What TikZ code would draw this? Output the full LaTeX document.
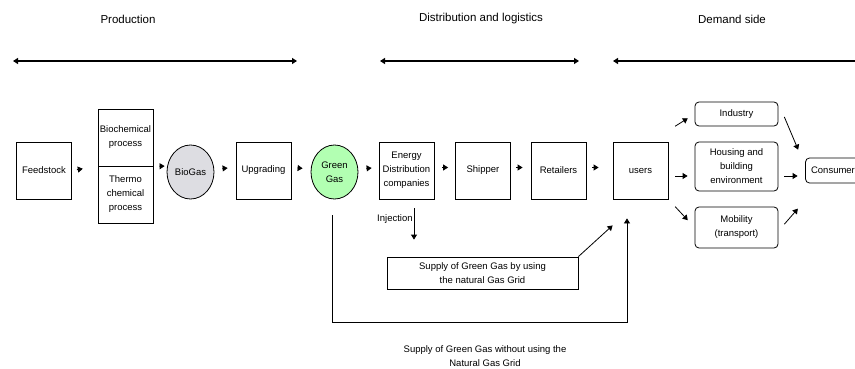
\documentclass[tikz,border=0pt]{standalone}
\usepackage{fontspec}
\setmainfont{Liberation Sans}
\usetikzlibrary{arrows.meta,shapes.geometric}
\definecolor{biogasgray}{RGB}{221,221,226}
\definecolor{greengas}{RGB}{178,255,178}
\tikzset{every node/.style={inner sep=1pt,align=center}}
\tikzset{box/.style={rectangle,draw,line width=0.8pt,minimum width=55pt,minimum height=57pt}}
\tikzset{rbox/.style={rectangle,rounded corners=4pt,draw,line width=0.8pt,minimum width=83pt}}
\tikzset{gas/.style={ellipse,draw,line width=0.8pt,minimum width=47pt,minimum height=54pt}}
\tikzset{head/.style={font=\fontsize{11.5}{14}\selectfont}}
\tikzset{flow/.style={-{Triangle[length=5pt,width=6pt]},line width=0.8pt}}
\tikzset{span/.style={{Triangle[length=5pt,width=6pt]}-{Triangle[length=5pt,width=6pt]},line width=1.2pt}}

\begin{document}
\begin{tikzpicture}[x=1pt,y=-1pt,font=\fontsize{9.5}{14}\selectfont]
      \useasboundingbox (0,0) rectangle (855,369);
      \node[head] (prod) at (128,19) {Production};
      \node[head] (dist) at (481,19) {Distribution and logistics};
      \node[head] (dem) at (732,19) {Demand side};
      \coordinate (p0) at (13,61);
      \coordinate (p1) at (297,61);
      \coordinate (d0) at (380,61);
      \coordinate (d1) at (579,61);
      \coordinate (c0) at (613,61);
      \coordinate (c1) at (875,61);
        \draw[span] (p0) -- (p1);
        \draw[span] (d0) -- (d1);
        \draw[span] (c0) -- (c1);
      \node[box] (feed) at (44,170.5) {Feedstock};
      \node[box] (bio) at (125.5,137.5) {Biochemical\\process};
      \node[box] (thermo) at (125.5,194.5) {Thermo\\chemical\\process};
      \node[gas,fill=biogasgray] (biogas) at (190.5,172) {BioGas};
      \node[box] (upgrade) at (263.5,170.5) {Upgrading};
      \node[gas,fill=greengas] (green) at (334.5,172) {Green\\Gas};
      \node[box] (energy) at (406.5,170.5) {Energy\\Distribution\\companies};
      \node[box] (shipper) at (483,170.5) {Shipper};
      \node[box] (retail) at (558.5,170.5) {Retailers};
      \node[box] (users) at (640.5,170.5) {users};
      \node[rbox,minimum height=24pt] (industry) at (736.5,114) {Industry};
      \node[rbox,minimum height=49pt] (housing) at (736.5,166.5) {Housing and\\building\\environment};
      \node[rbox,minimum height=41pt] (mobility) at (736.5,227.5) {Mobility\\(transport)};
      \node[rbox,minimum width=55pt,minimum height=25pt] (consumer) at (833,170.5) {Consumer};
      \node[rectangle,draw,line width=0.8pt,minimum width=191pt,minimum height=32pt] (grid) at (482.5,273) {Supply of Green Gas by using\\the natural Gas Grid};
      \node (nogrid) at (485,356) {Supply of Green Gas without using the\\Natural Gas Grid};
      \coordinate (inj) at ([xshift=7.5pt]energy.south);
        \draw[flow,shorten <=5pt,shorten >=15pt] (feed.east) -- (bio.south west);
        \draw[flow,shorten <=6pt,shorten >=2pt] (bio.south east) -- ([yshift=6pt]biogas.west);
        \draw[flow,shorten <=8pt,shorten >=8pt] ([yshift=3pt]biogas.east) -- ([yshift=3pt]upgrade.west);
        \draw[flow,shorten <=6pt,shorten >=8pt] ([yshift=3pt]upgrade.east) -- ([yshift=3pt]green.west);
        \draw[flow,shorten <=8pt,shorten >=7pt] ([yshift=3pt]green.east) -- ([yshift=3pt]energy.west);
        \draw[flow,shorten <=8pt,shorten >=7pt] ([yshift=3pt]energy.east) -- ([yshift=3pt]shipper.west);
        \draw[flow,shorten <=5pt,shorten >=8pt] ([yshift=3pt]shipper.east) -- ([yshift=3pt]retail.west);
        \draw[flow,shorten <=6pt,shorten >=14pt] ([yshift=3pt]retail.east) -- ([yshift=3pt]users.west);
        \draw[flow,shorten <=8pt,shorten >=8pt] ([yshift=40pt]users.east) -- (industry.west);
        \draw[flow,shorten <=7pt,shorten >=7pt] ([yshift=-5.5pt]users.east) -- ([yshift=-9.5pt]housing.west);
        \draw[flow,shorten <=10pt,shorten >=10pt] (users.south east) -- (mobility.west);
        \draw[flow,shorten <=7.5pt,shorten >=7.5pt] ([xshift=3pt,yshift=4pt]industry.east) -- ([xshift=-4pt,yshift=1pt]consumer.north west);
        \draw[flow,shorten <=6pt,shorten >=7.5pt] ([yshift=-9.5pt]housing.east) -- ([yshift=-5.5pt]consumer.west);
        \draw[flow,shorten <=9pt,shorten >=11pt] ([yshift=-3.5pt]mobility.east) -- ([yshift=-17pt]consumer.south west);
        \draw[flow,shorten <=9pt,shorten >=17pt] (inj) -- (inj |- grid.north) node[left,pos=0.35] {Injection};
        \draw[flow] (grid.north east) -- ([yshift=-26pt]users.south west);
        \draw[flow,shorten <=16pt,shorten >=19pt] ([xshift=-2.5pt]green.south) -- ++(0,123) -| ([xshift=-13.5pt]users.south);
    \end{tikzpicture}
\end{document}
